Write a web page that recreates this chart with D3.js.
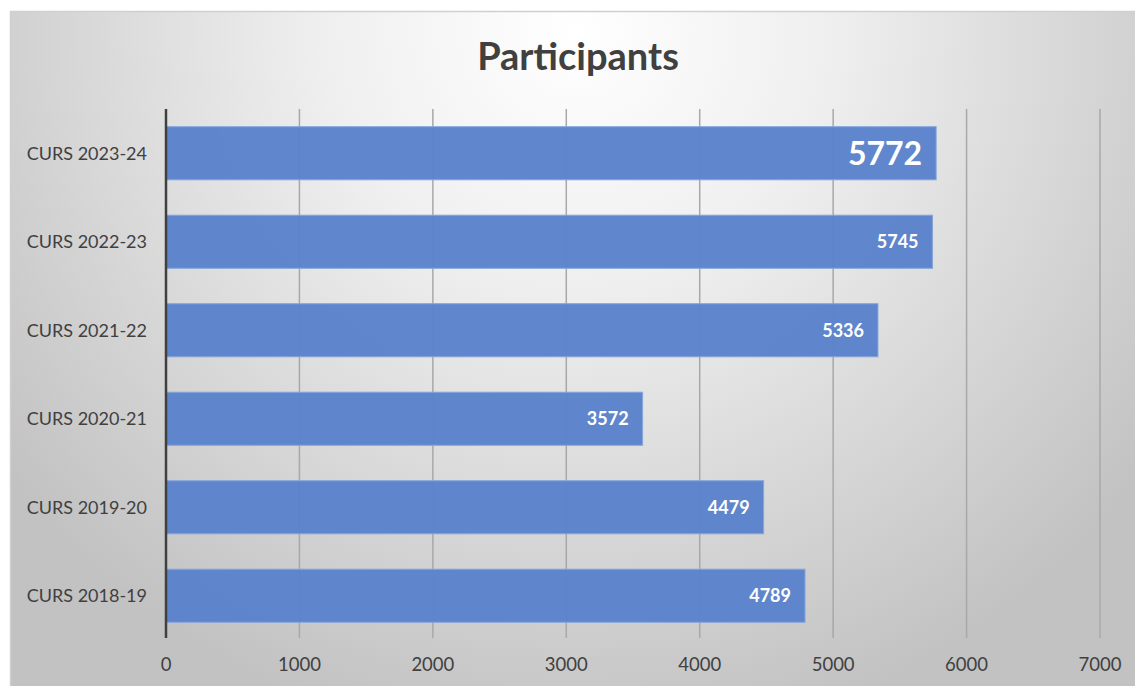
<!DOCTYPE html>
<html><head><meta charset="utf-8">
<script src="https://cdn.jsdelivr.net/npm/d3@7"></script>
<style>html,body{margin:0;padding:0;background:#fff;overflow:hidden}</style>
</head><body>
<svg id="c" width="1135" height="686"></svg>
<script>
const categories = ["CURS 2023-24","CURS 2022-23","CURS 2021-22","CURS 2020-21","CURS 2019-20","CURS 2018-19"];
const values = [5772, 5745, 5336, 3572, 4479, 4789];
const xTicks = [0,1000,2000,3000,4000,5000,6000,7000];
const title = "Participants";

const svg = d3.select("#c");
const font = "Lato, 'Open Sans', sans-serif";
const defs = svg.append("defs");
const rg = defs.append("radialGradient").attr("id","bg")
  .attr("gradientUnits","userSpaceOnUse").attr("cx",575).attr("cy",30).attr("r",720);
rg.append("stop").attr("offset","0%").attr("stop-color","#ffffff");
rg.append("stop").attr("offset","35%").attr("stop-color","#efefef");
rg.append("stop").attr("offset","100%").attr("stop-color","#c2c2c2");

svg.append("rect").attr("x",10.5).attr("y",11.5).attr("width",1140).attr("height",690)
  .attr("fill","url(#bg)").attr("stroke","#d0d0d0").attr("stroke-width",1.5);

const x = d3.scaleLinear().domain([0,7000]).range([166,1100]);
const y = d3.scaleBand().domain(categories).range([109,640]).paddingInner(0.4).paddingOuter(0.2);

// gridlines
svg.append("g").selectAll("line").data(xTicks.filter(d=>d>0)).join("line")
  .attr("x1",d=>x(d)).attr("x2",d=>x(d)).attr("y1",109).attr("y2",638)
  .attr("stroke","#a8a8a8").attr("stroke-width",1.5);

// bars
svg.append("g").selectAll("rect").data(values).join("rect")
  .attr("x",x(0)).attr("y",(d,i)=>y(categories[i]))
  .attr("width",d=>x(d)-x(0)).attr("height",y.bandwidth())
  .attr("fill","#5b83cb").attr("fill-opacity",0.97).attr("stroke","#86a6dc").attr("stroke-width",1);

// axis line
svg.append("line").attr("x1",166).attr("x2",166).attr("y1",109).attr("y2",638)
  .attr("stroke","#404040").attr("stroke-width",2.5);

// data labels
svg.append("g").selectAll("text").data(values).join("text")
  .attr("x",d=>x(d)-14)
  .attr("y",(d,i)=>y(categories[i])+y.bandwidth()/2)
  .attr("dy",(d,i)=>i===0?"0.36em":"0.35em")
  .attr("text-anchor","end").attr("fill","#fff").attr("font-weight","bold")
  .attr("font-family",font).attr("font-size",(d,i)=>i===0?32:18)
  .text(d=>d);

// category labels
svg.append("g").selectAll("text").data(categories).join("text")
  .attr("x",147).attr("y",d=>y(d)+y.bandwidth()/2).attr("dy","0.35em")
  .attr("text-anchor","end").attr("fill","#404040").attr("font-family",font).attr("font-size",18)
  .text(d=>d);

// x tick labels
svg.append("g").selectAll("text").data(xTicks).join("text")
  .attr("x",d=>x(d)).attr("y",665).attr("dy","0.35em")
  .attr("text-anchor","middle").attr("fill","#404040").attr("font-family",font).attr("font-size",18.5)
  .text(d=>d);

svg.append("text").attr("x",578).attr("y",70).attr("text-anchor","middle")
  .attr("fill","#404040").attr("font-family",font).attr("font-weight","bold").attr("font-size",38)
  .text(title);
</script>
</body></html>
